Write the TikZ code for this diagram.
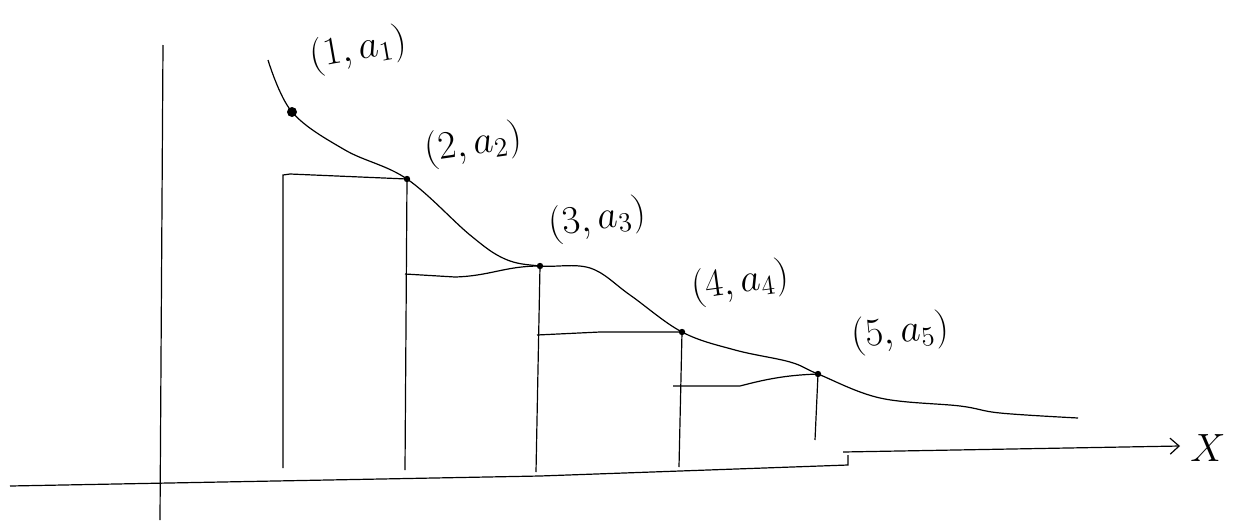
\documentclass[tikz,border=0pt]{standalone}
\usepackage{amsmath}
\usepackage{tikz}
\usetikzlibrary{arrows.meta,positioning}

\begin{document}
\begin{tikzpicture}[x=1pt,y=-1pt,line width=1.2pt,>={Straight Barb[length=9pt,width=16pt]}]
\useasboundingbox (0,0) rectangle (1233,525);
\coordinate (c0) at (268,60);
\coordinate (a1) at (292,112);
\coordinate (a2) at (407,179);
\coordinate (a3) at (540,266);
\coordinate (a4) at (682,332);
\coordinate (a5) at (818,374);
\coordinate (c_end) at (1078,418);
\coordinate (b1) at (283,468);
\coordinate (b2) at (405,470);
\coordinate (b3) at (536,472);
\coordinate (b4) at (679,467);
\coordinate (f5) at (815,440);
\coordinate (t1) at (290,174);
\coordinate (t2) at (405,274);
\coordinate (t3) at (537,335);
\coordinate (t4) at (673,386);
\coordinate (y_top) at (163,45);
\coordinate (y_bot) at (160,520);
\coordinate (x_left) at (10,486);
\coordinate (x_mid) at (540,476);
\coordinate (x_cut) at (848,465);
\coordinate (x_from) at (843,452);
\coordinate (x_to) at (1180,446);
\draw (y_top)--(y_bot);
\draw (x_left)--(x_mid)--(x_cut)--++(0,-10);
\draw[->] (x_from)--(x_to);
\node[inner sep=0pt] (x_lab) at (1208,448) {\scalebox{1.9}{\huge $X$}};
\draw plot[smooth,tension=0.6] coordinates {(c0) (a1) (345,150) (a2) (470,235) (505,259) (a3) (590,268) (630,295) (a4) (735,350) (790,362) (a5) (880,398) (960,406) (1000,413) (c_end)};
\draw (b1)--(283,175)--(t1)--(a2)--(b2);
\draw (t2)--(455,277) .. controls (490,276) and (505,266) .. (a3)--(b3);
\draw (t3)--(600,332)--(a4)--(b4);
\draw (t4)--(740,386) .. controls (770,378) and (790,375) .. (a5)--(f5);
\fill (a1) circle (5pt);
\foreach \p in {a2,a3,a4,a5} \fill (\p) circle (3.2pt);
\node[rotate=10,inner sep=0pt] (lab1) at (358,50) {\scalebox{1.9}{\huge $(1,a_1)$}};
\node[rotate=8,inner sep=0pt] (lab2) at (473,145) {\scalebox{1.9}{\huge $(2,a_2)$}};
\node[rotate=8,inner sep=0pt] (lab3) at (597,220) {\scalebox{1.9}{\huge $(3,a_3)$}};
\node[rotate=8,inner sep=0pt] (lab4) at (740,283) {\scalebox{1.9}{\huge $(4,a_4)$}};
\node[rotate=6,inner sep=0pt] (lab5) at (900,333) {\scalebox{1.9}{\huge $(5,a_5)$}};
\end{tikzpicture}
\end{document}
